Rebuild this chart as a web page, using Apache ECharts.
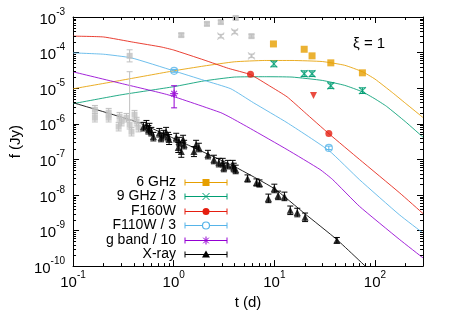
<!DOCTYPE html>
<html>
<head>
<meta charset="utf-8">
<script src="https://cdn.jsdelivr.net/npm/echarts@6/dist/echarts.min.js"></script>
<style>
html,body{margin:0;padding:0;background:#fff}
#chart{width:450px;height:315px}
</style>
</head>
<body>
<div id="chart"></div>
<script>
var FONT = '"Liberation Sans", Arial, sans-serif';

// model curves, [t (d), f (Jy)]
var model6GHz = [[0.1,9.6e-6],[0.3,1.66e-5],[1,3.07e-5],[2,4.2e-5],[4,5.5e-5],[8,6.0e-5],[15,6.0e-5],[30,5.6e-5],[50,4.4e-5],[75,2.9e-5],[100,1.8e-5],[150,7.4e-6],[200,3.8e-6],[300,1.5e-6]];
var model9GHz = [[0.1,3.66e-6],[0.3,6.5e-6],[1,1.1e-5],[2,1.6e-5],[4,2.05e-5],[8,2.1e-5],[15,2.05e-5],[30,1.65e-5],[50,1.2e-5],[75,7.9e-6],[100,5.0e-6],[130,3.1e-6],[200,1.15e-6],[300,4.2e-7]];
var modelF160 = [[0.1,2.9e-4],[0.2,2.75e-4],[0.4,1.95e-4],[0.75,1.44e-4],[1,1.18e-4],[2,6.2e-5],[3.5,3.6e-5],[5.8,2.4e-5],[9,1.15e-5],[13.4,5.7e-6],[20,2.1e-6],[35,5.2e-7],[70,1.0e-7],[174,1.17e-8],[300,3.0e-9]];
var modelF110 = [[0.1,9.8e-5],[0.2,9.0e-5],[0.38,7.1e-5],[1,3.07e-5],[2,1.66e-5],[3.7,9.6e-6],[6.2,3.9e-6],[13.4,1.07e-6],[35,1.75e-7],[70,2.7e-8],[174,2.8e-9],[300,8.5e-10]];
var modelG = [[0.1,2.88e-5],[0.3,1.36e-5],[0.88,6.5e-6],[2.94,2.05e-6],[3.7,1.48e-6],[5.8,7.3e-7],[13.4,1.88e-7],[28.4,5.2e-8],[38,2.7e-8],[70,4.8e-9],[174,5.7e-10],[300,1.7e-10]];
var modelX = [[0.1,3.9e-6],[0.45,1.07e-6],[1.4,2.5e-7],[4,6.3e-8],[10,1.5e-8],[20,3.0e-9],[42,5.5e-10],[100,5.5e-11]];

// observations, [t, f, error in dex]
var obs6GHz = [[9.8,1.75e-4,0],[19.8,1.24e-4,0],[23.7,8.1e-5,0],[36.4,5.15e-5,0],[75,2.7e-5,0]];
var obs9GHz = [[9.9,4.8e-5,0.08],[19.8,2.55e-5,0.08],[23.7,2.55e-5,0.08],[36.4,1.17e-5,0.08],[75,8.5e-6,0.08]];
var obsF160 = [[5.8,2.45e-5,0],[34.8,5.3e-7,0]];
var limF160 = [[24.5,6.2e-6]];
var obsF110 = [[1.01,3.07e-5,0.04],[34.8,2.1e-7,0.05]];
var obsG = [[1.01,7.0e-6,2.8e-6,1.17e-5]];
var obsX = [
  [0.50,8.3e-7,0.12],[0.536,9.4e-7,0.12],[0.574,7.8e-7,0.12],[0.60,6.0e-7,0.12],[0.628,4.35e-7,0.12],[0.561,6.8e-7,0.12],
  [0.72,5.6e-7,0.12],[0.79,4.95e-7,0.12],[0.84,6.0e-7,0.12],[0.88,4.35e-7,0.12],[0.90,3.6e-7,0.14],[0.75,4.1e-7,0.12],
  [1.06,4.1e-7,0.12],[1.13,3.15e-7,0.12],[1.24,3.6e-7,0.12],[1.11,2.15e-7,0.14],[1.27,2.6e-7,0.12],[1.19,1.65e-7,0.16],
  [1.67,2.6e-7,0.12],[1.78,2.15e-7,0.12],[1.59,1.65e-7,0.14],
  [2.19,1.36e-7,0.12],[2.51,9.9e-8,0.12],[2.81,8.1e-8,0.12],[3.07,8.1e-8,0.12],[3.15,5.9e-8,0.12],[3.44,7.1e-8,0.12],
  [3.86,7.1e-8,0.12],[3.95,5.9e-8,0.12],[4.13,5.2e-8,0.12],[5.42,2.9e-8,0.1],[6.65,2.24e-8,0.1],[7.12,2.1e-8,0.1],
  [8.73,8.0e-9,0.12],[10.0,1.52e-8,0.12],[10.9,9.7e-9,0.12],[12.6,9.1e-9,0.12],[14.4,3.7e-9,0.12],[16.9,3.2e-9,0.12],
  [20.2,2.35e-9,0.12],[41.8,5.3e-10,0.08]
];
var otherSq = [
  [0.365,8.1e-5,0.17],[1.19,3.1e-4,0.05],[2.14,6.4e-4,0.05],[2.94,7.2e-4,0.05],[4.13,9.4e-4,0.05],[5.93,2.9e-4,0.05],
  [0.165,2.48e-6,0.12],[0.165,1.48e-6,0.12],[0.226,2.05e-6,0.12],[0.226,1.48e-6,0.12],[0.29,1.58e-6,0.12],[0.304,1.15e-6,0.12],
  [0.284,8.3e-7,0.12],[0.34,1.48e-6,0.12],[0.365,9.4e-7,0.12],[0.381,6.0e-7,0.12],[0.408,1.8e-6,0.12],[0.428,1.15e-6,0.12],[0.447,7.8e-7,0.12]
];
var otherX = [[2.94,2.9e-4,0.05],[4.04,3.8e-4,0.05],[5.93,8.1e-5,0.05]];
var otherBar = [[0.365,2.2e-6,1.3e-6,2.9e-5]];

var legendNames = ['6 GHz', '9 GHz / 3', 'F160W', 'F110W / 3', 'g band / 10', 'X-ray'];
var annotation = 'ξ = 1';

var C = {orange:'#e69f00', green:'#009e73', red:'#e51e10', blue:'#56b4e9', purple:'#9400d3', black:'#000000', gray:'#c0c0c0'};

function bounds(pts){
  return pts.map(function(p){ var k = Math.pow(10, p[2]); return [p[0], p[1], p[1]/k, p[1]*k]; });
}

function lineSeries(data, color){
  return {type:'line', data:data, showSymbol:false, smooth:0.15, silent:true, z:2,
    lineStyle:{color:color, width:1, opacity:0.85}};
}

function errSeries(data, color, cap){
  return {type:'custom', data:data, silent:true, z:3, encode:{x:0, y:[1,2,3]},
    renderItem:function(params, api){
      var a = api.coord([api.value(0), api.value(2)]);
      var b = api.coord([api.value(0), api.value(3)]);
      var st = {stroke:color, lineWidth:1};
      return {type:'group', children:[
        {type:'line', shape:{x1:a[0], y1:a[1], x2:b[0], y2:b[1]}, style:st},
        {type:'line', shape:{x1:a[0]-cap, y1:a[1], x2:a[0]+cap, y2:a[1]}, style:st},
        {type:'line', shape:{x1:b[0]-cap, y1:b[1], x2:b[0]+cap, y2:b[1]}, style:st}
      ]};
    }};
}

function pointSeries(data, symbol, size, color, hollow, rotate){
  return {type:'scatter', data:data.map(function(p){ return [p[0], p[1]]; }), symbol:symbol, symbolSize:size,
    symbolRotate:rotate || 0, silent:true, z:5,
    itemStyle: hollow ? {color:'rgba(0,0,0,0)', borderColor:color, borderWidth:1.2} : {color:color}};
}

var X_PATH = 'path://M0 0L7 7M7 0L0 7';
var STAR_PATH = 'path://M4 0L4 8M0 4L8 4M1.2 1.2L6.8 6.8M6.8 1.2L1.2 6.8';

function expLabel(v){
  var l = Math.log10(v), e = Math.round(l);
  if (Math.abs(l - e) > 1e-6) return '';
  return '{b|10}{s|' + e + '}';
}
var labelRich = {
  b:{fontSize:15, fontFamily:FONT, color:'#000', lineHeight:20, verticalAlign:'bottom'},
  s:{fontSize:10, fontFamily:FONT, color:'#000', lineHeight:20, verticalAlign:'top'}
};

function logAxis(pos, min, max, show){
  return {type:'log', logBase:10, min:min, max:max, position:pos,
    axisLine:{show:true, onZero:false, lineStyle:{color:'#000', width:1}},
    axisTick:{show:true, inside:true, length:6, lineStyle:{color:'#000', width:1}},
    splitLine:{show:false}, minorTick:{show:false},
    axisLabel:{show:show, formatter:expLabel, rich:labelRich, hideOverlap:false, showMinLabel:true, showMaxLabel:true}};
}

var chart = echarts.init(document.getElementById('chart'));

var xBottom = logAxis('bottom', 0.1, 300, true);
xBottom.axisLabel.margin = 4;
xBottom.name = 't (d)'; xBottom.nameLocation = 'middle'; xBottom.nameGap = 28;
xBottom.nameTextStyle = {fontSize:15, fontFamily:FONT, color:'#000'};
var yLeft = logAxis('left', 1e-10, 1e-3, true);
yLeft.axisLabel.margin = 8;
yLeft.name = 'f (Jy)'; yLeft.nameLocation = 'middle'; yLeft.nameGap = 50;
yLeft.nameTextStyle = {fontSize:15, fontFamily:FONT, color:'#000'};

var option = {
  animation:false,
  backgroundColor:'#fff',
  grid:{left:71, right:27, top:17, bottom:48, containLabel:false},
  xAxis:[xBottom, logAxis('top', 0.1, 300, false)],
  yAxis:[yLeft, logAxis('right', 1e-10, 1e-3, false)],
  series:[
    lineSeries(model6GHz, C.orange),
    lineSeries(model9GHz, C.green),
    lineSeries(modelF160, C.red),
    lineSeries(modelF110, C.blue),
    lineSeries(modelG, C.purple),
    lineSeries(modelX, C.black),
    errSeries(bounds(otherSq), C.gray, 3),
    errSeries(otherBar, C.gray, 3),
    errSeries(bounds(otherX), C.gray, 3),
    pointSeries(otherSq, 'rect', 6, C.gray),
    pointSeries(otherX, X_PATH, 7, C.gray, true),
    errSeries(bounds(obs9GHz), C.green, 3),
    errSeries(bounds(obsF110), C.blue, 3),
    errSeries(obsG, C.purple, 3),
    errSeries(bounds(obsX), C.black, 3),
    pointSeries(obs6GHz, 'rect', 7, C.orange),
    pointSeries(obs9GHz, X_PATH, 7, C.green, true),
    pointSeries(obsF160, 'circle', 7, C.red),
    pointSeries(limF160, 'triangle', 7, C.red, false, 180),
    pointSeries(obsF110, 'circle', 7, C.blue, true),
    pointSeries(obsG, STAR_PATH, 8, C.purple, true),
    pointSeries(obsX, 'triangle', 7, C.black)
  ]
};
chart.setOption(option);

// minor ticks, legend and label drawn on top
var g = [];
var yTop = chart.convertToPixel({yAxisIndex:0}, 1e-3);
var yBot = chart.convertToPixel({yAxisIndex:0}, 1e-10);
var xL = chart.convertToPixel({xAxisIndex:0}, 0.1);
var xR = chart.convertToPixel({xAxisIndex:0}, 300);
function seg(x1, y1, x2, y2, color){
  return {type:'line', silent:true, z:10, shape:{x1:x1, y1:y1, x2:x2, y2:y2}, style:{stroke:color || '#000', lineWidth:1}};
}
for (var e = -1; e <= 2; e++) {
  for (var m = 2; m <= 9; m++) {
    var t = m * Math.pow(10, e);
    if (t > 300) break;
    var px = Math.round(chart.convertToPixel({xAxisIndex:0}, t)) + 0.5;
    g.push(seg(px, yBot, px, yBot - 3));
    g.push(seg(px, yTop, px, yTop + 3));
  }
}
for (var e2 = -10; e2 < -3; e2++) {
  for (var m2 = 2; m2 <= 9; m2++) {
    var py = Math.round(chart.convertToPixel({yAxisIndex:0}, m2 * Math.pow(10, e2))) + 0.5;
    g.push(seg(xL, py, xL + 3, py));
    g.push(seg(xR, py, xR - 3, py));
  }
}

var legColors = [C.orange, C.green, C.red, C.blue, C.purple, C.black];
var legX0 = 185, legX1 = 227, legMid = 206, legTextX = 176, legY0 = 182, legDy = 14.4;
legendNames.forEach(function(name, i){
  var y = Math.round(legY0 + i * legDy) + 0.5, c = legColors[i];
  g.push({type:'text', z:10, x:legTextX, y:y, style:{text:name, fill:'#000', font:'14px ' + FONT,
    align:'right', textAlign:'right', verticalAlign:'middle', textVerticalAlign:'middle'}});
  g.push(seg(legX0, y, legX1, y, c));
  g.push(seg(legX0, y - 3, legX0, y + 3, c));
  g.push(seg(legX1, y - 3, legX1, y + 3, c));
  if (i === 0) g.push({type:'rect', z:11, shape:{x:legMid - 3.5, y:y - 3.5, width:7, height:7}, style:{fill:c}});
  if (i === 1) { g.push(seg(legMid - 3.5, y - 3.5, legMid + 3.5, y + 3.5, c)); g.push(seg(legMid + 3.5, y - 3.5, legMid - 3.5, y + 3.5, c)); }
  if (i === 2) g.push({type:'circle', z:11, shape:{cx:legMid, cy:y, r:3.5}, style:{fill:c}});
  if (i === 3) g.push({type:'circle', z:11, shape:{cx:legMid, cy:y, r:3.5}, style:{fill:'#fff', stroke:c, lineWidth:1.2}});
  if (i === 4) {
    g.push(seg(legMid, y - 4, legMid, y + 4, c));
    g.push(seg(legMid - 2.8, y - 2.8, legMid + 2.8, y + 2.8, c));
    g.push(seg(legMid + 2.8, y - 2.8, legMid - 2.8, y + 2.8, c));
  }
  if (i === 5) g.push({type:'polygon', z:11, shape:{points:[[legMid, y - 4], [legMid + 4, y + 3], [legMid - 4, y + 3]]}, style:{fill:c}});
});
g.push({type:'text', z:10, x:353, y:44, style:{text:annotation, fill:'#000', font:'15px ' + FONT,
  align:'left', textAlign:'left', verticalAlign:'middle', textVerticalAlign:'middle'}});

chart.setOption({graphic:{elements:g}});
</script>
</body>
</html>
